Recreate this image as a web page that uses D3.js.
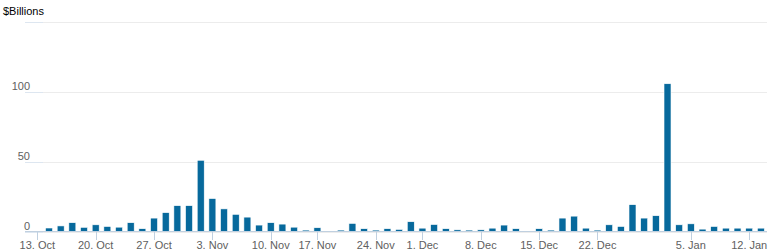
<!DOCTYPE html>
<html>
<head>
<meta charset="utf-8">
<script src="https://cdn.jsdelivr.net/npm/d3@7"></script>
<style>
    body { margin: 0; background: #fff; }
    svg { display: block; }
</style>
</head>
<body>
<div id="chart"></div>
<script>
// trading days, 13 Oct 2014 - 13 Jan 2015 (holidays left out)
const days = [
    "2014-10-13", "2014-10-14", "2014-10-15", "2014-10-16", "2014-10-17",
    "2014-10-20", "2014-10-21", "2014-10-22", "2014-10-23", "2014-10-24",
    "2014-10-27", "2014-10-28", "2014-10-29", "2014-10-30", "2014-10-31",
    "2014-11-03", "2014-11-04", "2014-11-05", "2014-11-06", "2014-11-07",
    "2014-11-10", "2014-11-12", "2014-11-13", "2014-11-14",
    "2014-11-17", "2014-11-18", "2014-11-19", "2014-11-20", "2014-11-21",
    "2014-11-24", "2014-11-25", "2014-11-26", "2014-11-28",
    "2014-12-01", "2014-12-02", "2014-12-03", "2014-12-04", "2014-12-05",
    "2014-12-08", "2014-12-09", "2014-12-10", "2014-12-11", "2014-12-12",
    "2014-12-15", "2014-12-16", "2014-12-17", "2014-12-18", "2014-12-19",
    "2014-12-22", "2014-12-23", "2014-12-24", "2014-12-26",
    "2014-12-29", "2014-12-30", "2014-12-31", "2015-01-02",
    "2015-01-05", "2015-01-06", "2015-01-07", "2015-01-08", "2015-01-09",
    "2015-01-12", "2015-01-13"
];

const values = [
    0, 2.5, 4, 6.3, 3,
    4.8, 3.6, 3.1, 6.3, 2,
    9.6, 13.5, 18.5, 18.5, 51,
    23.6, 16.2, 12.3, 10.3, 4.6,
    6.3, 5.3, 3.1, 1,
    2.7, 0, 1, 5.8, 2,
    1, 2, 1.5, 7,
    2.4, 5, 2, 1.2, 1,
    1.2, 2.4, 4.6, 2, 0,
    2, 1, 9.6, 11, 2.4,
    1, 4.8, 3.6, 19.2,
    9.6, 11.3, 105.8, 4.8,
    5.5, 1.7, 3.6, 2.4, 2.4,
    2.4, 2.4
];

const tickDays = ["2014-10-13", "2014-10-20", "2014-10-27", "2014-11-03", "2014-11-10",
    "2014-11-17", "2014-11-24", "2014-12-01", "2014-12-08", "2014-12-15",
    "2014-12-22", "2015-01-05", "2015-01-12"];
const tickLabels = ["13. Oct", "20. Oct", "27. Oct", "3. Nov", "10. Nov",
    "17. Nov", "24. Nov", "1. Dec", "8. Dec", "15. Dec",
    "22. Dec", "5. Jan", "12. Jan"];

const yTicks = [0, 50, 100, 150];
const yLabels = ["0", "50", "100", ""];

const width = 777;
const height = 251;
const plotLeft = 25;
const plotRight = 767;
const barColor = "#07699c";
const font = "'Lucida Sans Unicode', Arial, 'Liberation Sans', sans-serif";

const svg = d3.select('#chart')
    .append('svg')
    .attr('width', width)
    .attr('height', height);

const x = d3.scaleBand().domain(days).range([31.5, 766.7]).padding(0);
const y = d3.scaleLinear().domain([0, 150]).range([231.5, 22]);

// title
svg.append('text')
    .attr('x', 3)
    .attr('y', 15)
    .style('font-family', font)
    .style('font-size', '11px')
    .style('fill', '#000')
    .text('$Billions');

// grid lines
const grid = svg.append('g');
grid.selectAll('line.grid')
    .data(yTicks)
    .enter()
    .append('line')
    .attr('class', 'grid')
    .attr('x1', plotLeft)
    .attr('x2', plotRight)
    .attr('y1', d => Math.round(y(d)) + 0.5)
    .attr('y2', d => Math.round(y(d)) + 0.5)
    .style('stroke', '#ececec')
    .style('stroke-width', 1);
grid.selectAll('line.ytick')
    .data(yTicks)
    .enter()
    .append('line')
    .attr('class', 'ytick')
    .attr('x1', plotLeft)
    .attr('x2', 43)
    .attr('y1', d => Math.round(y(d)) + 0.5)
    .attr('y2', d => Math.round(y(d)) + 0.5)
    .style('stroke', '#dde6f0')
    .style('stroke-width', 1);

// y labels sit just above their grid line
svg.selectAll('text.ylabel')
    .data(yTicks)
    .enter()
    .append('text')
    .attr('class', 'ylabel')
    .attr('x', 30)
    .attr('y', d => y(d) - 2)
    .style('text-anchor', 'end')
    .style('font-family', font)
    .style('font-size', '11px')
    .style('fill', '#606060')
    .text((d, i) => yLabels[i]);

// bars
const bw = x.bandwidth() * 0.6;
svg.append('g')
    .selectAll('rect')
    .data(days.map((d, i) => ({ day: d, value: values[i] })).filter(d => d.value > 0))
    .enter()
    .append('rect')
    .attr('x', d => x(d.day) + x.bandwidth() * 0.2)
    .attr('y', d => y(d.value))
    .attr('width', bw)
    .attr('height', d => y(0) - y(d.value))
    .style('fill', barColor)
    .style('stroke', '#fff')
    .style('stroke-width', 0.6);

// x axis line and ticks
svg.append('line')
    .attr('x1', plotLeft)
    .attr('x2', plotRight)
    .attr('y1', 231.5)
    .attr('y2', 231.5)
    .style('stroke', '#c0d0e0')
    .style('stroke-width', 1);

const xAxis = svg.append('g');
xAxis.selectAll('line')
    .data(tickDays)
    .enter()
    .append('line')
    .attr('x1', d => Math.round(x(d) + x.bandwidth() / 2) + 0.5)
    .attr('x2', d => Math.round(x(d) + x.bandwidth() / 2) + 0.5)
    .attr('y1', 231.5)
    .attr('y2', 240)
    .style('stroke', '#c0d0e0')
    .style('stroke-width', 1);
xAxis.selectAll('text')
    .data(tickDays)
    .enter()
    .append('text')
    .attr('x', d => x(d) + x.bandwidth() / 2)
    .attr('y', 248.5)
    .style('text-anchor', 'middle')
    .style('font-family', font)
    .style('font-size', '11px')
    .style('fill', '#606060')
    .text((d, i) => tickLabels[i]);
</script>
</body>
</html>
